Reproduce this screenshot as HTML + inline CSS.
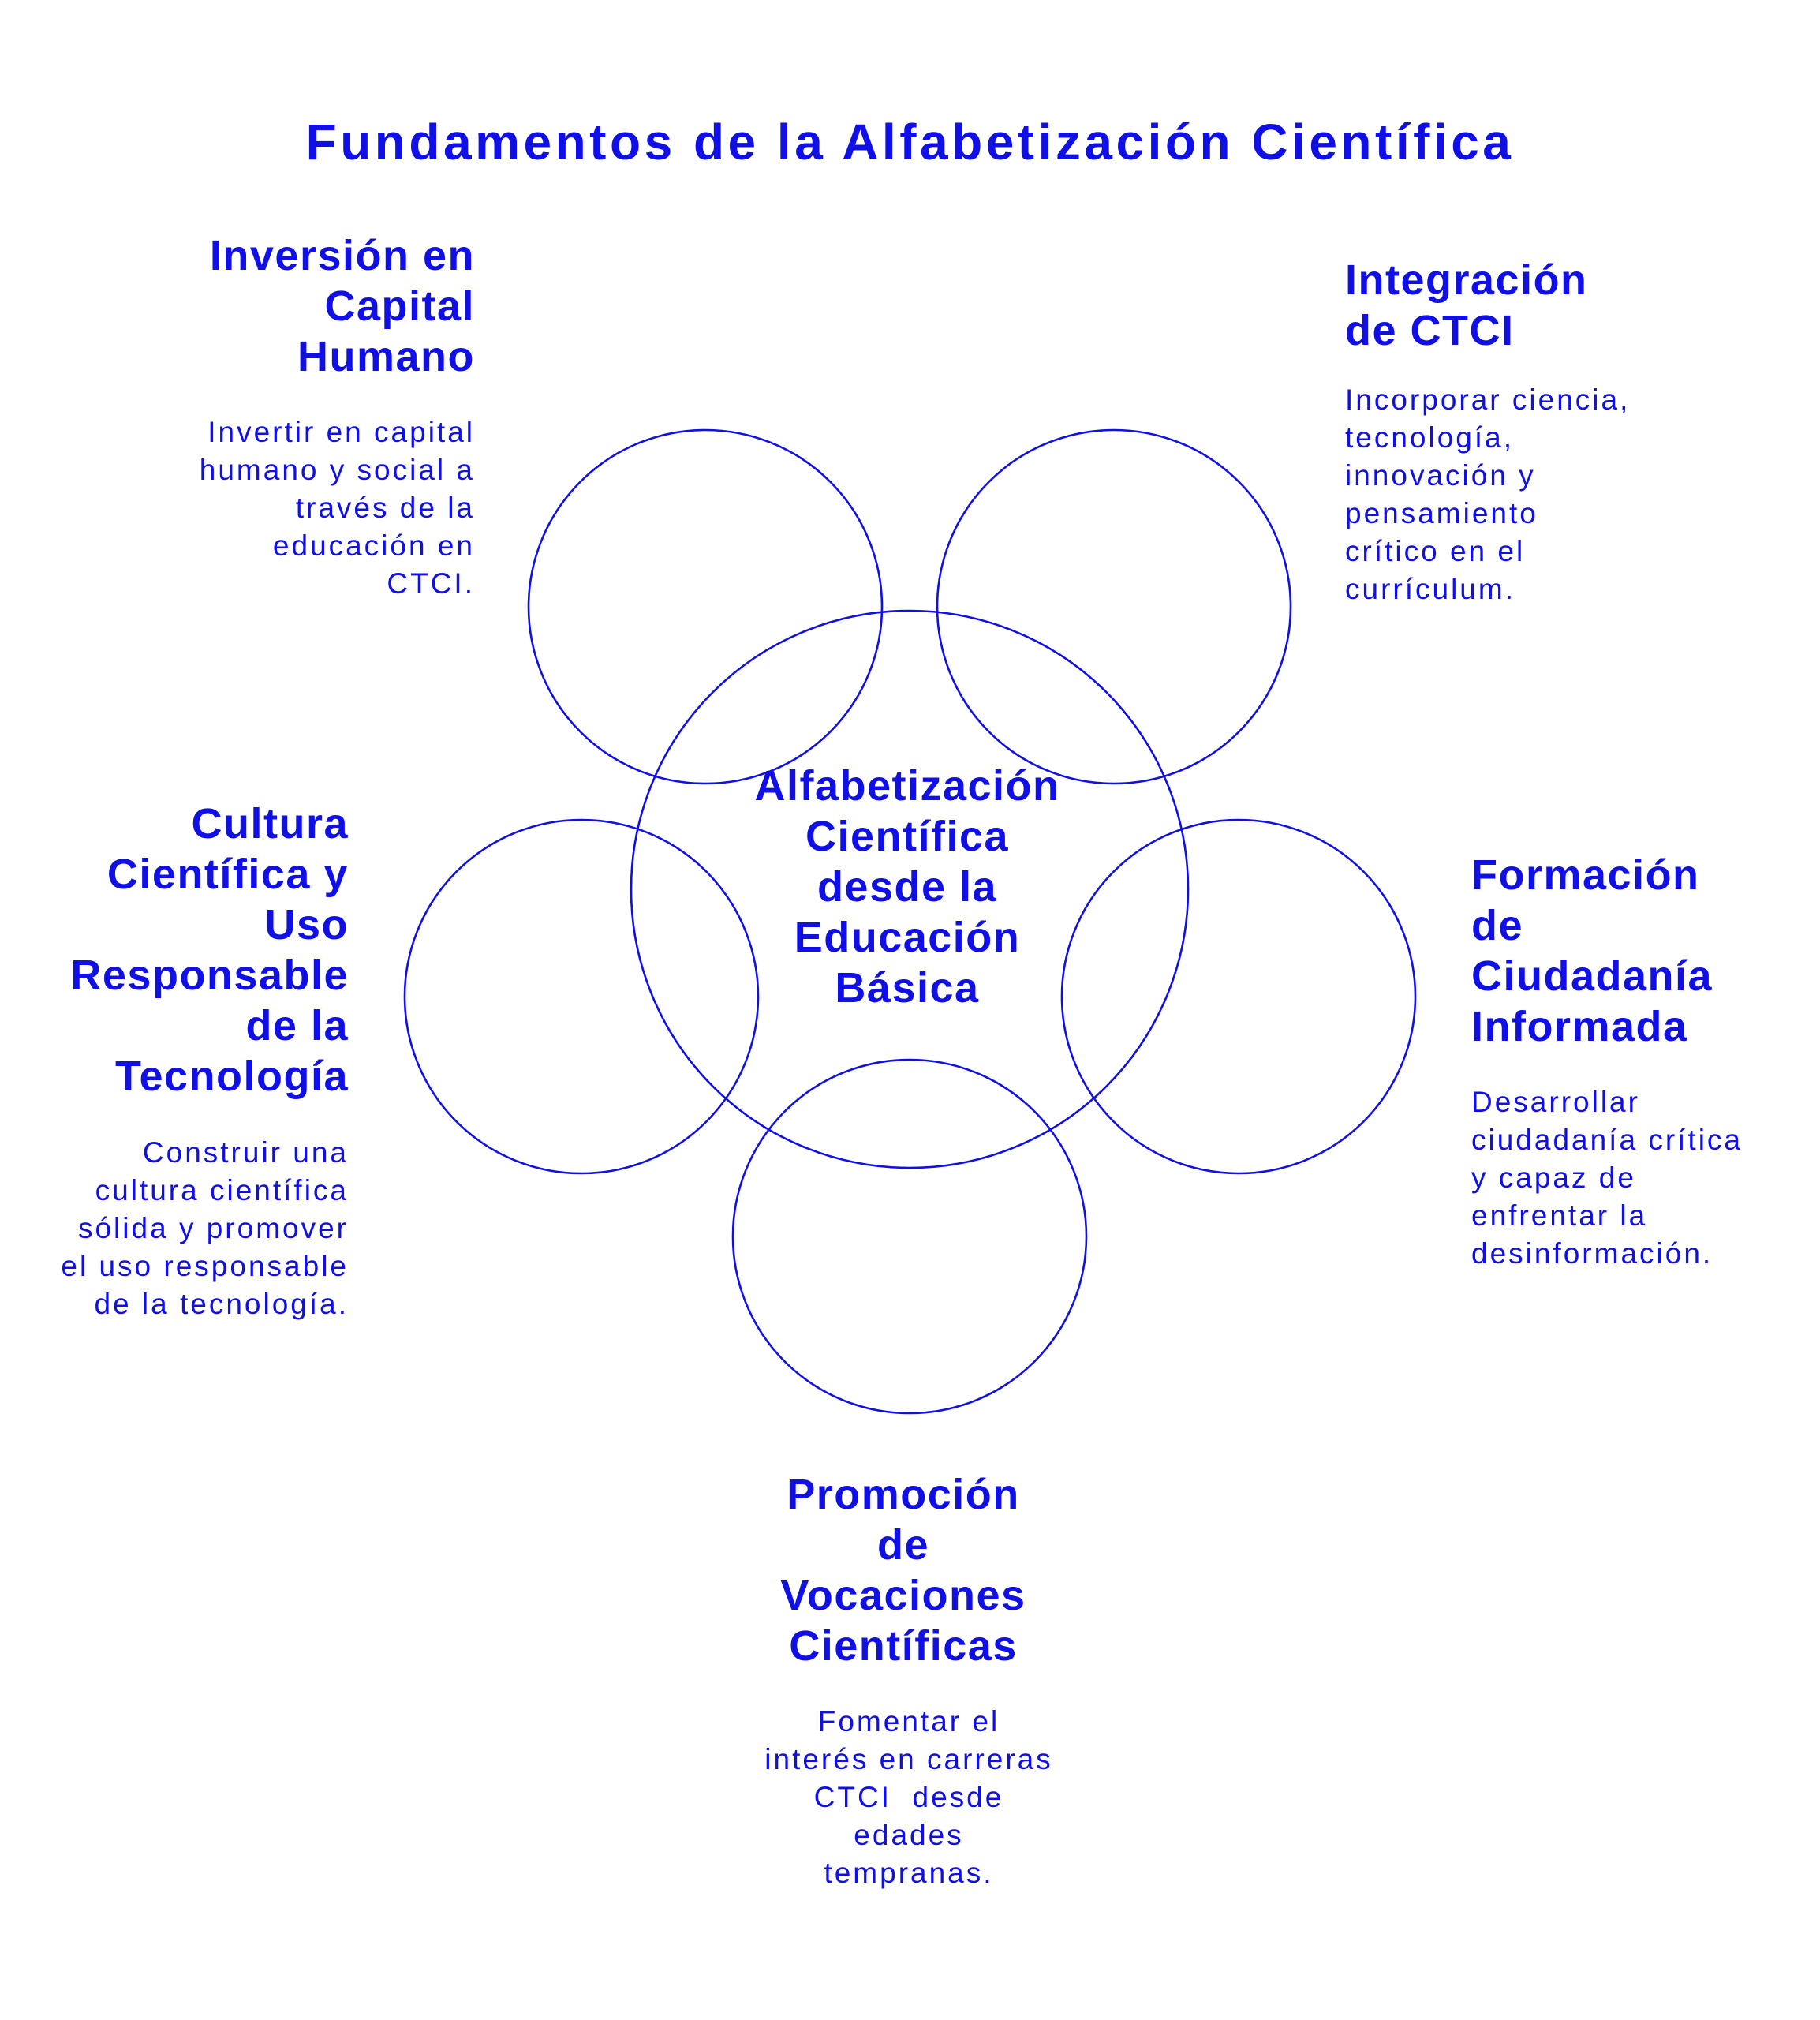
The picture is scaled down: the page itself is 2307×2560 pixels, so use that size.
<!DOCTYPE html>
<html><head><meta charset="utf-8"><style>
html,body{margin:0;padding:0;background:#fff;}
body{width:2307px;height:2560px;position:relative;overflow:hidden;font-family:"Liberation Sans",sans-serif;color:#0f0fe6;}
.t{position:absolute;white-space:nowrap;}
.h{font-weight:bold;font-size:54px;line-height:64px;letter-spacing:1.5px;}
.b{font-size:37px;line-height:48px;letter-spacing:3px;}
.r{text-align:right;}
.c{text-align:center;}
</style></head><body>
<svg width="2307" height="2560" style="position:absolute;left:0;top:0" fill="none" stroke="#0f0fe6" stroke-width="2.6">
<circle cx="894" cy="769" r="224"/>
<circle cx="1412" cy="769" r="224"/>
<circle cx="1153" cy="1127" r="353"/>
<circle cx="737" cy="1263" r="224"/>
<circle cx="1570" cy="1263" r="224"/>
<circle cx="1153" cy="1567" r="224"/>
</svg>
<div class="t c" style="left:0;width:2307px;top:140px;font-size:64px;line-height:80px;font-weight:bold;letter-spacing:4.5px;">Fundamentos de la Alfabetización Científica</div>

<div class="t h r" style="right:1705px;top:292px;">Inversión en<br>Capital<br>Humano</div>
<div class="t b r" style="right:1705px;top:524px;">Invertir en capital<br>humano y social a<br>través de la<br>educación en<br>CTCI.</div>

<div class="t h" style="left:1705px;top:323px;">Integración<br>de CTCI</div>
<div class="t b" style="left:1705px;top:483px;">Incorporar ciencia,<br>tecnología,<br>innovación y<br>pensamiento<br>crítico en el<br>currículum.</div>

<div class="t h r" style="right:1865px;top:1012px;">Cultura<br>Científica y<br>Uso<br>Responsable<br>de la<br>Tecnología</div>
<div class="t b r" style="right:1865px;top:1437px;">Construir una<br>cultura científica<br>sólida y promover<br>el uso responsable<br>de la tecnología.</div>

<div class="t h" style="left:1865px;top:1077px;">Formación<br>de<br>Ciudadanía<br>Informada</div>
<div class="t b" style="left:1865px;top:1373px;">Desarrollar<br>ciudadanía crítica<br>y capaz de<br>enfrentar la<br>desinformación.</div>

<div class="t h c" style="left:840px;width:610px;top:1862px;">Promoción<br>de<br>Vocaciones<br>Científicas</div>
<div class="t b c" style="left:852px;width:600px;top:2158px;">Fomentar el<br>interés en carreras<br>CTCI&nbsp; desde<br>edades<br>tempranas.</div>

<div class="t h c" style="left:850px;width:600px;top:964px;">Alfabetización<br>Científica<br>desde la<br>Educación<br>Básica</div>
</body></html>
